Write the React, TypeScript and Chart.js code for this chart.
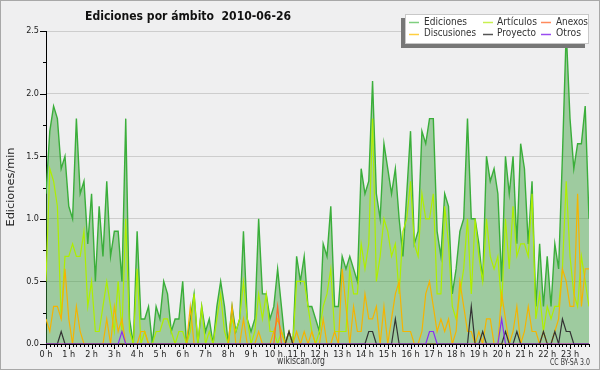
import React, { useEffect, useRef } from 'react';
import { Chart, registerables } from 'chart.js';

Chart.register(...registerables);

const TITLE = 'Ediciones por ámbito  2010-06-26';
const Y_LABEL = 'Ediciones/min';
const FOOTER = 'wikiscan.org';
const LICENSE = 'CC BY-SA 3.0';

const hourLabels = [
  '0 h', '1 h', '2 h', '3 h', '4 h', '5 h', '6 h', '7 h', '8 h', '9 h', '10 h', '11 h',
  '12 h', '13 h', '14 h', '15 h', '16 h', '17 h', '18 h', '19 h', '20 h', '21 h', '22 h', '23 h',
];
const SLOTS_PER_HOUR = 6;
const yTickValues = [0, 0.5, 1.0, 1.5, 2.0, 2.5];
const yMinorStep = 0.25;

// one value per 10-minute slot (edits per minute)
const ediciones = [
  1.2, 1.7, 1.9, 1.8, 1.4, 1.5, 1.1, 1.0, 1.8, 1.2, 1.3, 0.8,
  1.2, 0.5, 1.1, 0.7, 1.3, 0.7, 0.9, 0.9, 0.5, 1.8, 0.2, 0.0,
  0.9, 0.2, 0.2, 0.3, 0.0, 0.3, 0.2, 0.5, 0.4, 0.1, 0.2, 0.2,
  0.5, 0.0, 0.2, 0.4, 0.0, 0.3, 0.1, 0.2, 0.0, 0.3, 0.5, 0.3,
  0.0, 0.3, 0.1, 0.2, 0.9, 0.2, 0.1, 0.2, 1.0, 0.4, 0.4, 0.2,
  0.3, 0.6, 0.3, 0.0, 0.1, 0.0, 0.7, 0.5, 0.7, 0.3, 0.3, 0.2,
  0.1, 0.8, 0.7, 1.1, 0.3, 0.3, 0.7, 0.6, 0.7, 0.6, 0.5, 1.4,
  1.2, 1.3, 2.1, 1.2, 1.0, 1.6, 1.4, 1.2, 1.4, 1.0, 0.7, 1.2,
  1.7, 0.8, 0.9, 1.7, 1.6, 1.8, 1.8, 0.9, 0.7, 1.2, 1.1, 0.4,
  0.6, 0.9, 1.0, 1.8, 1.0, 1.0, 0.8, 0.5, 1.5, 1.3, 1.4, 1.2,
  0.5, 1.5, 1.2, 1.5, 0.8, 1.6, 1.4, 0.8, 1.3, 0.3, 0.8, 0.3,
  0.7, 0.3, 0.8, 0.6, 1.5, 2.5, 1.8, 1.4, 1.6, 1.6, 1.9, 1.0,
];

const articulos = [
  0.5, 1.4, 1.3, 1.1, 0.2, 0.7, 0.7, 0.8, 0.7, 0.7, 0.9, 0.3,
  0.5, 0.1, 0.1, 0.3, 0.5, 0.3, 0.1, 0.5, 0.1, 1.0, 0.1, 0.0,
  0.6, 0.0, 0.1, 0.0, 0.0, 0.1, 0.1, 0.2, 0.2, 0.1, 0.0, 0.1,
  0.1, 0.0, 0.1, 0.4, 0.0, 0.3, 0.0, 0.1, 0.0, 0.2, 0.4, 0.1,
  0.0, 0.2, 0.1, 0.2, 0.5, 0.2, 0.0, 0.1, 0.4, 0.2, 0.4, 0.1,
  0.1, 0.0, 0.1, 0.0, 0.0, 0.0, 0.5, 0.5, 0.5, 0.3, 0.1, 0.0,
  0.1, 0.3, 0.4, 0.6, 0.1, 0.1, 0.1, 0.1, 0.6, 0.4, 0.4, 0.8,
  0.6, 0.8, 1.8, 0.5, 0.7, 1.0, 0.9, 0.7, 0.8, 0.4, 0.9, 1.0,
  1.3, 0.8, 0.7, 1.2, 1.0, 1.0, 1.2, 0.4, 0.4, 1.1, 0.8, 0.3,
  0.2, 0.4, 0.6, 1.0, 0.4, 1.0, 0.7, 0.5, 1.0, 0.7, 0.6, 0.7,
  0.3, 1.0, 0.6, 1.1, 0.7, 0.8, 0.8, 0.7, 1.2, 0.2, 0.4, 0.1,
  0.3, 0.2, 0.3, 0.3, 0.6, 1.3, 0.7, 0.4, 0.3, 0.7, 0.5, 0.3,
];

const discusiones = [
  0.2, 0.1, 0.3, 0.3, 0.2, 0.6, 0.2, 0.0, 0.3, 0.1, 0.0, 0.0,
  0.0, 0.0, 0.0, 0.0, 0.2, 0.0, 0.3, 0.1, 0.2, 0.0, 0.0, 0.0,
  0.0, 0.1, 0.1, 0.0, 0.0, 0.0, 0.0, 0.0, 0.0, 0.0, 0.0, 0.0,
  0.0, 0.0, 0.3, 0.0, 0.0, 0.0, 0.0, 0.0, 0.0, 0.0, 0.0, 0.0,
  0.0, 0.3, 0.0, 0.0, 0.2, 0.0, 0.0, 0.0, 0.1, 0.0, 0.0, 0.0,
  0.1, 0.2, 0.1, 0.0, 0.1, 0.0, 0.1, 0.0, 0.1, 0.0, 0.1, 0.0,
  0.0, 0.2, 0.0, 0.0, 0.1, 0.0, 0.6, 0.3, 0.0, 0.3, 0.1, 0.1,
  0.4, 0.2, 0.2, 0.3, 0.0, 0.3, 0.0, 0.2, 0.4, 0.5, 0.1, 0.1,
  0.1, 0.0, 0.0, 0.1, 0.4, 0.5, 0.3, 0.1, 0.2, 0.1, 0.2, 0.0,
  0.1, 0.5, 0.3, 0.1, 0.1, 0.0, 0.1, 0.0, 0.2, 0.2, 0.0, 0.0,
  0.4, 0.2, 0.0, 0.1, 0.3, 0.0, 0.1, 0.3, 0.1, 0.1, 0.0, 0.1,
  0.0, 0.0, 0.1, 0.2, 0.6, 0.5, 0.3, 0.3, 1.2, 0.3, 0.6, 0.6,
];

const anexos = [
  0, 0, 0, 0, 0, 0, 0, 0, 0, 0, 0, 0,
  0, 0, 0, 0, 0, 0, 0, 0, 0, 0, 0, 0,
  0, 0, 0, 0, 0, 0, 0, 0, 0, 0, 0, 0,
  0, 0, 0, 0, 0, 0, 0, 0, 0, 0, 0, 0,
  0, 0, 0, 0, 0, 0, 0, 0, 0, 0, 0, 0,
  0, 0.3, 0, 0, 0, 0, 0, 0, 0, 0, 0, 0,
  0, 0, 0, 0, 0, 0, 0, 0, 0, 0, 0, 0,
  0, 0, 0, 0, 0, 0, 0, 0, 0, 0, 0, 0,
  0, 0, 0, 0, 0, 0, 0, 0, 0, 0, 0, 0,
  0, 0, 0, 0, 0, 0, 0, 0, 0, 0, 0, 0,
  0, 0, 0, 0, 0, 0, 0, 0, 0, 0, 0, 0,
  0, 0, 0, 0, 0, 0, 0, 0, 0, 0, 0, 0,
];

const proyecto = [
  0, 0, 0, 0, 0.1, 0, 0, 0, 0, 0, 0, 0,
  0, 0, 0, 0, 0, 0, 0, 0, 0, 0, 0, 0,
  0, 0, 0, 0, 0, 0, 0, 0, 0, 0, 0, 0,
  0, 0, 0, 0, 0, 0, 0, 0, 0, 0, 0, 0,
  0, 0, 0, 0, 0, 0, 0, 0, 0, 0, 0, 0,
  0, 0, 0, 0, 0.1, 0, 0, 0, 0, 0, 0, 0,
  0, 0, 0, 0, 0, 0, 0, 0, 0, 0, 0, 0,
  0, 0.1, 0.1, 0, 0, 0, 0, 0, 0.2, 0, 0, 0,
  0, 0, 0, 0, 0, 0, 0, 0, 0, 0, 0, 0,
  0, 0, 0, 0, 0.3, 0, 0, 0.1, 0, 0, 0, 0,
  0, 0.1, 0, 0, 0.1, 0, 0, 0, 0, 0, 0, 0.1,
  0, 0, 0.1, 0, 0.2, 0.1, 0.1, 0, 0, 0, 0, 0,
];

const otros = [
  0, 0, 0, 0, 0, 0, 0, 0, 0, 0, 0, 0,
  0, 0, 0, 0, 0, 0, 0, 0, 0.1, 0, 0, 0,
  0, 0, 0, 0, 0, 0, 0, 0, 0, 0, 0, 0,
  0, 0, 0, 0, 0, 0, 0, 0, 0, 0, 0, 0,
  0, 0, 0, 0, 0, 0, 0, 0, 0, 0, 0, 0,
  0, 0, 0, 0, 0, 0, 0, 0, 0, 0, 0, 0,
  0, 0, 0, 0, 0, 0, 0, 0, 0, 0, 0, 0,
  0, 0, 0, 0, 0, 0, 0, 0, 0, 0, 0, 0,
  0, 0, 0, 0, 0, 0.1, 0.1, 0, 0, 0, 0, 0,
  0, 0, 0, 0, 0, 0, 0, 0, 0, 0, 0, 0,
  0.2, 0, 0, 0, 0, 0, 0, 0, 0, 0, 0, 0,
  0, 0, 0, 0, 0, 0, 0, 0, 0, 0, 0, 0,
];

const slotIndex = ediciones.map((_, i) => i);

const FONT = "'DejaVu Sans Condensed', 'DejaVu Sans', sans-serif";

type LegendItem = { label: string; color: string; col: number; row: number };
const legendItems: LegendItem[] = [
  { label: 'Ediciones', color: '#7fcf7f', col: 0, row: 0 },
  { label: 'Artículos', color: '#c8f050', col: 1, row: 0 },
  { label: 'Anexos', color: '#ff8a5c', col: 2, row: 0 },
  { label: 'Discusiones', color: '#ffcf40', col: 0, row: 1 },
  { label: 'Proyecto', color: '#555555', col: 1, row: 1 },
  { label: 'Otros', color: '#9a4cf0', col: 2, row: 1 },
];

function fitText(ctx: CanvasRenderingContext2D, s: string, x: number, y: number, w: number) {
  const m = ctx.measureText(s).width;
  const k = m > 0 ? w / m : 1;
  ctx.save();
  ctx.translate(x, y);
  ctx.scale(k, 1);
  ctx.fillText(s, 0, 0);
  ctx.restore();
}

const decor = {
  id: 'decor',
  beforeDraw(chart: any) {
    const { ctx, width, height } = chart;
    ctx.save();
    ctx.fillStyle = '#efeff0';
    ctx.fillRect(0, 0, width, height);
    ctx.restore();
  },
  afterDraw(chart: any) {
    const { ctx, chartArea, scales } = chart;
    const xs = scales.x;
    const ys = scales.y;
    ctx.save();
    // axis tick marks
    ctx.strokeStyle = '#000';
    ctx.lineWidth = 1;
    ctx.beginPath();
    const steps = Math.round(yTickValues[yTickValues.length - 1] / yMinorStep);
    for (let k = 0; k <= steps; k++) {
      const v = k * yMinorStep;
      const y = Math.round(ys.getPixelForValue(v)) + 0.5;
      const major = k % 2 === 0;
      ctx.moveTo(chartArea.left - (major ? 6 : 3), y);
      ctx.lineTo(chartArea.left, y);
    }
    for (const i of slotIndex) {
      const x = Math.round(xs.getPixelForValue(i)) + 0.5;
      const major = i % SLOTS_PER_HOUR === 0;
      ctx.moveTo(x, chartArea.bottom);
      ctx.lineTo(x, chartArea.bottom + (major ? 5 : 3));
    }
    ctx.stroke();

    // title
    ctx.fillStyle = '#111';
    ctx.textBaseline = 'alphabetic';
    ctx.textAlign = 'left';
    ctx.font = `bold 13px ${FONT}`;
    fitText(ctx, TITLE, 85, 20, 206);

    // y label
    ctx.save();
    ctx.translate(14, 187);
    ctx.rotate(-Math.PI / 2);
    ctx.font = `11px ${FONT}`;
    ctx.fillStyle = '#222';
    fitText(ctx, Y_LABEL, -39.5, 0, 79);
    ctx.restore();

    // footer
    ctx.font = `10px ${FONT}`;
    ctx.fillStyle = '#333';
    fitText(ctx, FOOTER, 277, 364, 48);
    ctx.font = `8px ${FONT}`;
    fitText(ctx, LICENSE, 550, 365, 40);

    // legend
    ctx.fillStyle = '#777';
    ctx.fillRect(401, 18, 184, 30);
    ctx.fillStyle = '#ffffff';
    ctx.fillRect(405, 14, 184, 30);
    ctx.strokeStyle = '#c8c8c8';
    ctx.strokeRect(405.5, 14.5, 183, 29);
    const colMarker = [409, 483, 541];
    const colText = [424, 497, 556];
    const rowY = [22, 33.5];
    const textW: Record<string, number> = {
      'Ediciones': 43, 'Artículos': 40, 'Anexos': 32, 'Discusiones': 52, 'Proyecto': 39, 'Otros': 25,
    };
    ctx.font = `11px ${FONT}`;
    ctx.textBaseline = 'middle';
    for (const it of legendItems) {
      const y = rowY[it.row];
      ctx.strokeStyle = it.color;
      ctx.lineWidth = 1.5;
      ctx.beginPath();
      ctx.moveTo(colMarker[it.col], Math.round(y) + 0.5);
      ctx.lineTo(colMarker[it.col] + 10, Math.round(y) + 0.5);
      ctx.stroke();
      ctx.fillStyle = '#333';
      fitText(ctx, it.label, colText[it.col], y, textW[it.label]);
    }

    // outer frame
    ctx.strokeStyle = '#a8a8a8';
    ctx.lineWidth = 1;
    ctx.strokeRect(0.5, 0.5, chart.width - 1, chart.height - 1);
    ctx.restore();
  },
};

export default function App() {
  const ref = useRef<HTMLCanvasElement>(null);
  useEffect(() => {
    document.body.style.margin = '0';
    const canvas = ref.current;
    if (!canvas) return;
    const line = (label: string, data: number[], color: string, order: number, width = 1.2) => ({
      label, data, borderColor: color, borderWidth: width, pointRadius: 0, tension: 0, fill: false, order,
    });
    const chart = new Chart(canvas, {
      type: 'line',
      data: {
        labels: slotIndex,
        datasets: [
          {
            label: 'Ediciones', data: ediciones, borderColor: '#3aae3a', borderWidth: 1.4,
            backgroundColor: 'rgba(60,160,60,0.45)', fill: 'origin', pointRadius: 0, tension: 0, order: 6,
          },
          line('Artículos', articulos, '#aeee00', 5),
          line('Discusiones', discusiones, '#f5b400', 4),
          line('Anexos', anexos, '#ff6a2a', 3),
          line('Proyecto', proyecto, '#333333', 2),
          line('Otros', otros, '#8a2ff0', 1),
        ] as any,
      },
      options: {
        responsive: false,
        animation: false,
        layout: { padding: { left: 8, right: 11, top: 31, bottom: 0 } },
        plugins: { legend: { display: false }, tooltip: { enabled: false }, title: { display: false } },
        scales: {
          x: {
            type: 'linear',
            min: 0,
            max: slotIndex.length - 1,
            z: 1,
            afterBuildTicks: (s: any) => {
              s.ticks = hourLabels.map((_, h) => ({ value: h * SLOTS_PER_HOUR }));
            },
            afterFit: (s: any) => { s.height = 26; },
            ticks: {
              autoSkip: false, maxRotation: 0, padding: 5, color: '#222',
              font: { family: FONT, size: 9 },
              callback: (v: any) => hourLabels[Math.round(Number(v) / SLOTS_PER_HOUR)],
            },
            grid: { display: false, drawTicks: false },
            border: { color: '#000', width: 1 },
          },
          y: {
            min: 0,
            max: yTickValues[yTickValues.length - 1],
            afterBuildTicks: (s: any) => { s.ticks = yTickValues.map((v) => ({ value: v })); },
            afterFit: (s: any) => { s.width = 38; },
            ticks: {
              padding: 7, color: '#222', font: { family: FONT, size: 9 },
              callback: (v: any) => Number(v).toFixed(1),
            },
            grid: { color: '#cdcdcd', drawTicks: false, lineWidth: 1 },
            border: { color: '#000', width: 1 },
          },
        },
      } as any,
      plugins: [decor],
    });
    return () => chart.destroy();
  }, []);
  return <canvas ref={ref} width={600} height={370} style={{ display: 'block' }} />;
}
